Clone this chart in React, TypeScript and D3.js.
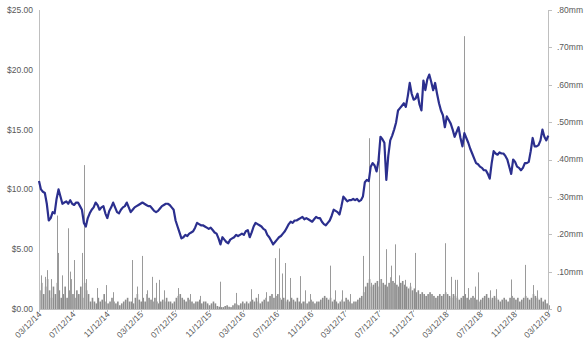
import React from "react";
import * as d3 from "d3";

const START_DATE = "2014-03-12";
const END_DATE = "2019-03-12";

// Weekly closing price ($), starting 03/12/14
const prices = [
  10.7, 10.0, 9.8, 9.7, 8.8, 7.4, 7.6, 8.1, 8.0, 9.2, 10.0, 9.4, 8.8, 8.9, 9.0, 8.8, 9.1, 8.8, 8.7, 8.9,
  8.9, 8.6, 8.3, 7.2, 6.9, 7.6, 8.0, 8.3, 8.5, 8.9, 8.7, 8.3, 8.5, 8.6, 8.0, 7.6, 8.2, 8.5, 8.9, 8.5,
  8.1, 8.0, 8.3, 8.5, 8.6, 8.9, 8.5, 8.1, 8.3, 8.5, 8.6, 8.7, 8.8, 8.9, 8.8, 8.7, 8.6, 8.6, 8.4, 8.2,
  8.1, 8.2, 8.4, 8.6, 8.7, 8.8, 8.8, 8.7, 8.5, 8.3, 7.4, 6.9, 6.4, 5.9, 6.0, 6.2, 6.1, 6.3, 6.4, 6.5,
  6.8, 7.2, 7.1, 7.0, 7.0, 6.9, 6.8, 6.7, 6.8, 6.6, 6.4, 6.3, 5.9, 5.4, 6.0, 5.8, 5.6, 5.5, 5.8, 5.9,
  6.0, 6.2, 6.1, 6.2, 6.3, 6.2, 6.5, 6.6, 6.0, 6.4, 6.9, 7.2, 7.1, 7.0, 6.9, 6.7, 6.6, 6.2, 6.0, 5.7,
  5.4, 5.6, 5.8, 6.0, 6.1, 6.3, 6.5, 6.8, 7.1, 7.3, 7.2, 7.4, 7.4, 7.5, 7.6, 7.7, 7.5, 7.6, 7.5, 7.4,
  7.3, 7.5, 7.7, 7.6, 7.6, 7.3, 7.1, 7.0, 7.2, 7.4, 7.8, 8.3, 8.2, 8.1, 7.9, 8.6, 9.4, 9.2, 9.0, 9.1,
  9.1, 9.2, 9.1, 9.2, 9.0, 9.1, 9.4, 10.6, 10.8, 10.7, 11.9, 12.2, 12.0, 11.5, 12.4, 14.4, 14.2, 13.9, 10.8, 12.8,
  14.1, 14.5, 15.0, 15.6, 16.6, 16.8, 17.0, 17.2, 16.9, 17.8, 18.9, 18.0, 17.5, 17.6, 18.0, 17.1, 16.6, 19.1, 18.3, 19.2,
  19.6, 19.0, 18.3, 18.9, 18.0, 17.2, 16.6, 16.2, 15.2, 16.1, 15.8, 15.5, 15.0, 14.4, 14.8, 15.2, 14.3, 13.6, 14.7, 14.3,
  13.9, 13.4, 13.0, 12.6, 12.2, 12.1, 11.9, 11.8, 11.6, 11.6, 11.3, 10.9, 12.2, 13.2, 13.0, 12.9, 13.1, 13.0, 13.0, 12.8,
  12.5, 11.9, 11.3, 12.5, 12.3, 11.9, 11.8, 11.6, 11.8, 12.2, 12.2, 12.3, 13.2, 14.3, 13.6, 13.6, 13.7, 14.1, 15.0, 14.4,
  14.1, 14.5,
];

// Weekly typical volume (mm shares)
const weeklyVolume = [
  0.05, 0.07, 0.04, 0.06, 0.08, 0.05, 0.03, 0.06, 0.04, 0.07, 0.05, 0.03, 0.04, 0.06, 0.03, 0.05, 0.08, 0.04, 0.03, 0.05,
  0.04, 0.06, 0.03, 0.07, 0.05, 0.04,
  0.02, 0.03, 0.02, 0.015, 0.03, 0.02, 0.025, 0.04, 0.02, 0.015, 0.02, 0.03, 0.02, 0.015, 0.02, 0.01, 0.015, 0.02, 0.025, 0.03,
  0.02, 0.02, 0.015, 0.03, 0.04, 0.025, 0.02, 0.03, 0.02, 0.04, 0.03, 0.025, 0.02, 0.03, 0.02, 0.015, 0.02, 0.025, 0.02, 0.03,
  0.02, 0.02, 0.015, 0.02,
  0.03, 0.035, 0.04, 0.03, 0.025, 0.02, 0.03, 0.025, 0.02, 0.015, 0.02, 0.02, 0.025, 0.015, 0.02, 0.02, 0.015, 0.01, 0.015, 0.02,
  0.015,
  0.008, 0.006, 0.005, 0.005, 0.008, 0.01, 0.006, 0.005, 0.01, 0.015, 0.012, 0.01, 0.015, 0.02, 0.015,
  0.02, 0.015, 0.02, 0.025, 0.02, 0.03, 0.02, 0.015, 0.02, 0.025, 0.03, 0.02, 0.035, 0.04, 0.03, 0.035, 0.04, 0.03, 0.025, 0.03,
  0.02, 0.025, 0.02, 0.03, 0.025, 0.02, 0.03, 0.02, 0.015, 0.02,
  0.02, 0.015, 0.02, 0.025, 0.02, 0.015, 0.02, 0.02, 0.025, 0.03, 0.035, 0.03, 0.025, 0.03, 0.02, 0.025, 0.02, 0.015, 0.02, 0.025,
  0.02, 0.03, 0.025, 0.02, 0.015, 0.02, 0.02, 0.025, 0.03, 0.035,
  0.045, 0.06, 0.07, 0.08, 0.06, 0.065, 0.07, 0.075, 0.06, 0.08, 0.07, 0.065, 0.06, 0.07, 0.085, 0.075, 0.07, 0.065, 0.06, 0.07,
  0.075, 0.065, 0.06, 0.055, 0.06, 0.05, 0.055, 0.045, 0.05, 0.04, 0.045, 0.04, 0.035, 0.04, 0.045, 0.04, 0.035, 0.03, 0.035, 0.04,
  0.035, 0.04, 0.045, 0.04, 0.035,
  0.03, 0.04, 0.035, 0.03, 0.025, 0.03, 0.035, 0.04, 0.03, 0.025, 0.03, 0.035, 0.03, 0.025, 0.02, 0.025, 0.03, 0.035, 0.04, 0.03,
  0.025, 0.03, 0.035, 0.03, 0.025, 0.02, 0.025, 0.03, 0.025, 0.02, 0.03, 0.035, 0.03, 0.025, 0.03, 0.02, 0.025, 0.03, 0.035, 0.03,
  0.025, 0.03, 0.04, 0.035, 0.03, 0.025, 0.03, 0.02, 0.025, 0.015, 0.01,
];

// Single-day volume spikes (date, mm shares)
const spikeDates = [
  "2014-03-18", "2014-04-01", "2014-04-11", "2014-04-24", "2014-05-14", "2014-05-19", "2014-06-02", "2014-06-24",
  "2014-07-01", "2014-07-16", "2014-08-13", "2014-08-19", "2014-08-26", "2014-10-07", "2014-11-06", "2014-12-02",
  "2015-02-10", "2015-02-28", "2015-03-15", "2015-04-03", "2015-04-21", "2015-05-06", "2015-05-15", "2015-06-03",
  "2015-07-22", "2015-09-05", "2015-10-11", "2015-12-21", "2016-02-17", "2016-04-09", "2016-05-06", "2016-06-03",
  "2016-07-06", "2016-07-19", "2016-08-01", "2016-08-10", "2016-08-28", "2016-10-03", "2016-10-21", "2016-11-08",
  "2017-01-19", "2017-02-06", "2017-03-02", "2017-04-01", "2017-05-18", "2017-06-08", "2017-06-15", "2017-07-12",
  "2017-07-21", "2017-08-08", "2017-08-25", "2017-09-09", "2017-09-23", "2017-10-16", "2017-11-02", "2017-11-20",
  "2018-03-07", "2018-03-29", "2018-04-12", "2018-04-19", "2018-05-13", "2018-05-30", "2018-06-23", "2018-07-05",
  "2018-08-16", "2018-09-05", "2018-10-30", "2018-12-19", "2019-01-18", "2019-01-31",
];
const spikeValues = [
  0.09, 0.086, 0.104, 0.08, 0.25, 0.15, 0.09, 0.216,
  0.1, 0.131, 0.15, 0.385, 0.08, 0.056, 0.064, 0.045,
  0.131, 0.06, 0.142, 0.05, 0.086, 0.07, 0.078, 0.05,
  0.056, 0.04, 0.035, 0.073, 0.043, 0.053, 0.04, 0.045,
  0.136, 0.162, 0.095, 0.123, 0.083, 0.088, 0.05, 0.04,
  0.116, 0.05, 0.05, 0.04, 0.142, 0.457, 0.07, 0.43,
  0.08, 0.16, 0.116, 0.173, 0.09, 0.078, 0.07, 0.15,
  0.176, 0.086, 0.078, 0.078, 0.73, 0.056, 0.06, 0.098,
  0.05, 0.053, 0.079, 0.118, 0.064, 0.05,
];

const tickDates = [
  "2014-03-12", "2014-07-12", "2014-11-12", "2015-03-12", "2015-07-12", "2015-11-12", "2016-03-12", "2016-07-12",
  "2016-11-12", "2017-03-12", "2017-07-12", "2017-11-12", "2018-03-12", "2018-07-12", "2018-11-12", "2019-03-12",
];
const priceTicks = [0, 5, 10, 15, 20, 25];
const volumeTicks = [0, 0.1, 0.2, 0.3, 0.4, 0.5, 0.6, 0.7, 0.8];

export default function App() {
  const W = 588;
  const H = 352;
  const left = 39;
  const right = 548;
  const top = 10;
  const bottom = 309;
  const parse = d3.utcParse("%Y-%m-%d");
  const start = parse(START_DATE)!;
  const x = d3.scaleUtc().domain([start, parse(END_DATE)!]).range([left, right]);
  const yP = d3.scaleLinear().domain([0, 25]).range([bottom, top]);
  const yV = d3.scaleLinear().domain([0, 0.8]).range([bottom, top]);
  const weekDate = (i: number) => d3.utcDay.offset(start, i * 7);
  const fmtDate = d3.utcFormat("%m/%d/%y");
  const line = d3
    .line<number>()
    .x((_, i) => x(weekDate(i)))
    .y((d) => yP(d))
    .curve(d3.curveLinear);

  const font = "'Liberation Sans', Arial, sans-serif";
  const textColor = "#595959";
  const axisColor = "#bfbfbf";
  const volColor = "#8c8c8c";

  return (
    <svg width={W} height={H} style={{ position: "absolute", left: 0, top: 0 }} fontFamily={font}>
      <rect x={0} y={0} width={W} height={H} fill="#fff" />
      {weeklyVolume.map((v, i) => {
        const xx = x(weekDate(i));
        return <rect key={"w" + i} x={xx} y={yV(v)} width={1.6} height={bottom - yV(v)} fill={volColor} />;
      })}
      {spikeDates.map((d, i) => {
        const xx = Math.round(x(parse(d)!)) + 0.5;
        return (
          <line key={"s" + i} x1={xx} x2={xx} y1={bottom} y2={yV(spikeValues[i])} stroke="#9a9a9a" strokeWidth={1} />
        );
      })}
      <line x1={left + 0.5} x2={left + 0.5} y1={top} y2={bottom} stroke={axisColor} />
      <line x1={right + 0.5} x2={right + 0.5} y1={top} y2={bottom} stroke={axisColor} />
      <line x1={left} x2={right + 1} y1={bottom + 0.5} y2={bottom + 0.5} stroke={axisColor} />
      <path d={line(prices) || ""} fill="none" stroke="#2b2f8e" strokeWidth={2.2} strokeLinejoin="round" />
      {priceTicks.map((t) => (
        <text key={"p" + t} x={33} y={yP(t)} dy="0.35em" textAnchor="end" fontSize={8.5} fill={textColor}>
          {"$" + t.toFixed(2)}
        </text>
      ))}
      {volumeTicks.map((t) => (
        <g key={"v" + t}>
          <line x1={right} x2={right + 4} y1={Math.round(yV(t)) + 0.5} y2={Math.round(yV(t)) + 0.5} stroke={axisColor} />
          <text x={557} y={yV(t)} dy="0.35em" textAnchor="start" fontSize={8.5} fill={textColor}>
            {t === 0 ? "0" : t.toFixed(2).replace(/^0/, "") + "mm"}
          </text>
        </g>
      ))}
      {tickDates.map((d) => {
        const xx = x(parse(d)!);
        return (
          <g key={"x" + d}>
            <line x1={Math.round(xx) + 0.5} x2={Math.round(xx) + 0.5} y1={bottom} y2={bottom + 3} stroke={axisColor} />
            <text
              transform={`translate(${xx + 3},${bottom + 6}) rotate(-45)`}
              textAnchor="end"
              fontSize={8.5}
              fill={textColor}
            >
              {fmtDate(parse(d)!)}
            </text>
          </g>
        );
      })}
    </svg>
  );
}
